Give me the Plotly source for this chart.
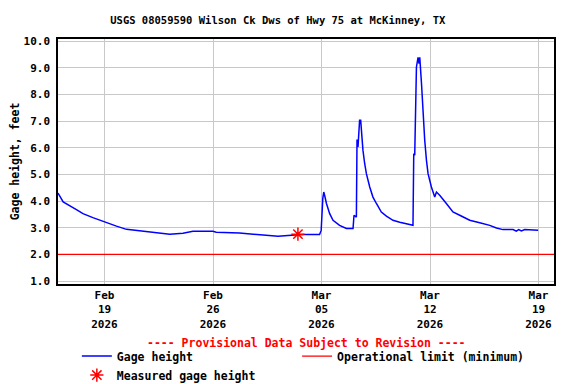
import plotly.graph_objects as go

# gage height readings
gage_times = [
    "2026-02-16 00:00", "2026-02-16 08:00", "2026-02-17 04:30", "2026-02-17 14:40",
    "2026-02-18 06:00", "2026-02-19 00:00", "2026-02-19 18:30", "2026-02-20 10:00",
    "2026-02-21 06:30", "2026-02-22 08:30", "2026-02-23 05:00", "2026-02-24 01:30",
    "2026-02-24 17:00", "2026-02-26 00:00", "2026-02-26 05:00", "2026-02-27 17:00",
    "2026-02-28 21:40", "2026-03-02 04:40", "2026-03-03 06:30", "2026-03-03 22:00",
    "2026-03-04 21:00", "2026-03-04 23:30", "2026-03-05 02:00", "2026-03-05 03:30",
    "2026-03-05 05:00", "2026-03-05 07:40", "2026-03-05 12:40", "2026-03-05 17:50",
    "2026-03-06 04:00", "2026-03-06 14:30", "2026-03-07 00:50", "2026-03-07 02:20",
    "2026-03-07 06:00", "2026-03-07 07:00", "2026-03-07 08:30", "2026-03-07 10:00",
    "2026-03-07 11:00", "2026-03-07 12:40", "2026-03-07 14:10", "2026-03-07 16:10",
    "2026-03-07 18:50", "2026-03-07 21:30", "2026-03-08 02:40", "2026-03-08 07:40",
    "2026-03-08 13:00", "2026-03-08 20:40", "2026-03-09 04:30", "2026-03-09 14:40",
    "2026-03-10 01:10", "2026-03-10 11:30", "2026-03-10 21:40", "2026-03-10 22:50",
    "2026-03-11 00:20", "2026-03-11 03:00", "2026-03-11 05:30", "2026-03-11 07:00",
    "2026-03-11 08:10", "2026-03-11 10:50", "2026-03-11 13:20", "2026-03-11 15:50",
    "2026-03-11 18:30", "2026-03-11 21:00", "2026-03-12 02:10", "2026-03-12 07:20",
    "2026-03-12 10:00", "2026-03-12 15:00", "2026-03-13 01:20", "2026-03-13 11:30",
    "2026-03-13 22:00", "2026-03-14 13:30", "2026-03-15 05:00", "2026-03-15 20:30",
    "2026-03-16 06:50", "2026-03-16 17:00", "2026-03-17 08:30", "2026-03-17 13:40",
    "2026-03-17 17:20", "2026-03-17 21:30", "2026-03-18 02:40", "2026-03-18 23:20",
]
gage_values = [
    4.30, 3.97, 3.68, 3.53,
    3.38, 3.21, 3.06, 2.94,
    2.88, 2.82, 2.76, 2.79,
    2.87, 2.87, 2.83, 2.80,
    2.74, 2.68, 2.73, 2.75,
    2.75, 2.90, 4.10, 4.34,
    4.20, 3.91, 3.53, 3.28,
    3.09, 2.97, 2.97, 3.47,
    3.40, 6.31, 6.03, 6.72,
    7.03, 7.03, 6.47, 5.91,
    5.41, 5.03, 4.53, 4.15,
    3.91, 3.59, 3.44, 3.28,
    3.21, 3.15, 3.09, 5.78,
    5.72, 9.03, 9.39, 9.16,
    9.39, 8.41, 7.16, 6.28,
    5.53, 5.03, 4.53, 4.15,
    4.34, 4.22, 3.91, 3.59,
    3.47, 3.28, 3.19, 3.09,
    2.99, 2.93, 2.93, 2.87,
    2.93, 2.88, 2.93, 2.91,
]

measured_times = ["2026-03-03 11:30"]
measured_values = [2.76]

limit_times = ["2026-02-16 00:00", "2026-03-20 00:00"]
limit_values = [2.0, 2.0]

x_tickvals = ["2026-02-19", "2026-02-26", "2026-03-05", "2026-03-12", "2026-03-19"]
x_ticktext = ["Feb<br>19<br>2026", "Feb<br>26<br>2026", "Mar<br>05<br>2026",
              "Mar<br>12<br>2026", "Mar<br>19<br>2026"]
y_tickvals = [1, 2, 3, 4, 5, 6, 7, 8, 9, 10]

FONT = "DejaVu Sans Mono"
legend_font = dict(family=FONT, size=11.5, weight="bold")

fig = go.Figure()
fig.add_trace(go.Scatter(x=gage_times, y=gage_values, mode="lines", name="Gage height",
                         line=dict(color="#0000ff", width=1.5), legend="legend"))
fig.add_trace(go.Scatter(x=limit_times, y=limit_values, mode="lines",
                         name="Operational limit (minimum)",
                         line=dict(color="#ff0000", width=1.2), legend="legend2"))
fig.add_trace(go.Scatter(x=measured_times, y=measured_values, mode="markers",
                         name="Measured gage height", legend="legend",
                         marker=dict(symbol="asterisk-open", size=11, color="#ff0000",
                                     line=dict(color="#ff0000", width=1.5))))

# page body keeps its 8px margin, so the figure is 8px smaller each way
fig.update_layout(
    width=568, height=376,
    margin=dict(l=50, r=22, t=31, b=100, autoexpand=False),
    paper_bgcolor="white", plot_bgcolor="white",
    font=dict(family=FONT, size=11, color="black", weight="bold"),
    title=dict(text="USGS 08059590 Wilson Ck Dws of Hwy 75 at McKinney, TX",
               x=0.475, xref="container", y=1 - 12 / 376, yref="container",
               yanchor="middle", font=dict(family=FONT, size=10.5, weight="bold")),
    showlegend=True,
    legend=dict(orientation="v", x=0.038, xanchor="left", y=-0.235, yanchor="top",
                itemwidth=30, font=legend_font, tracegroupgap=0,
                bgcolor="rgba(0,0,0,0)"),
    legend2=dict(orientation="v", x=0.482, xanchor="left", y=-0.235, yanchor="top",
                 itemwidth=30, font=legend_font, tracegroupgap=0,
                 bgcolor="rgba(0,0,0,0)"),
    annotations=[dict(text="---- Provisional Data Subject to Revision ----",
                      xref="paper", yref="paper", x=0.5, y=-0.241,
                      xanchor="center", yanchor="middle", showarrow=False,
                      font=dict(family=FONT, size=11.5, color="#ff0000", weight="bold"))],
)

fig.update_xaxes(
    range=["2026-02-16 00:00", "2026-03-20 00:00"],
    tickvals=x_tickvals, ticktext=x_ticktext,
    showgrid=True, gridcolor="#c8c8c8", gridwidth=1,
    showline=True, linecolor="black", linewidth=1.5, mirror=True,
    ticks="", zeroline=False, automargin=False,
    tickfont=dict(family=FONT, size=11, weight="bold"),
)
fig.update_yaxes(
    range=[0.89, 10.08],
    tickvals=y_tickvals, tickformat=".1f",
    showgrid=True, gridcolor="#c8c8c8", gridwidth=1,
    showline=True, linecolor="black", linewidth=1.5, mirror=True,
    ticks="", zeroline=False, automargin=False, ticklabelstandoff=4,
    title=dict(text="Gage height, feet", standoff=4,
               font=dict(family=FONT, size=11.5, weight="bold")),
    tickfont=dict(family=FONT, size=11, weight="bold"),
)

fig.write_html("out.html")
